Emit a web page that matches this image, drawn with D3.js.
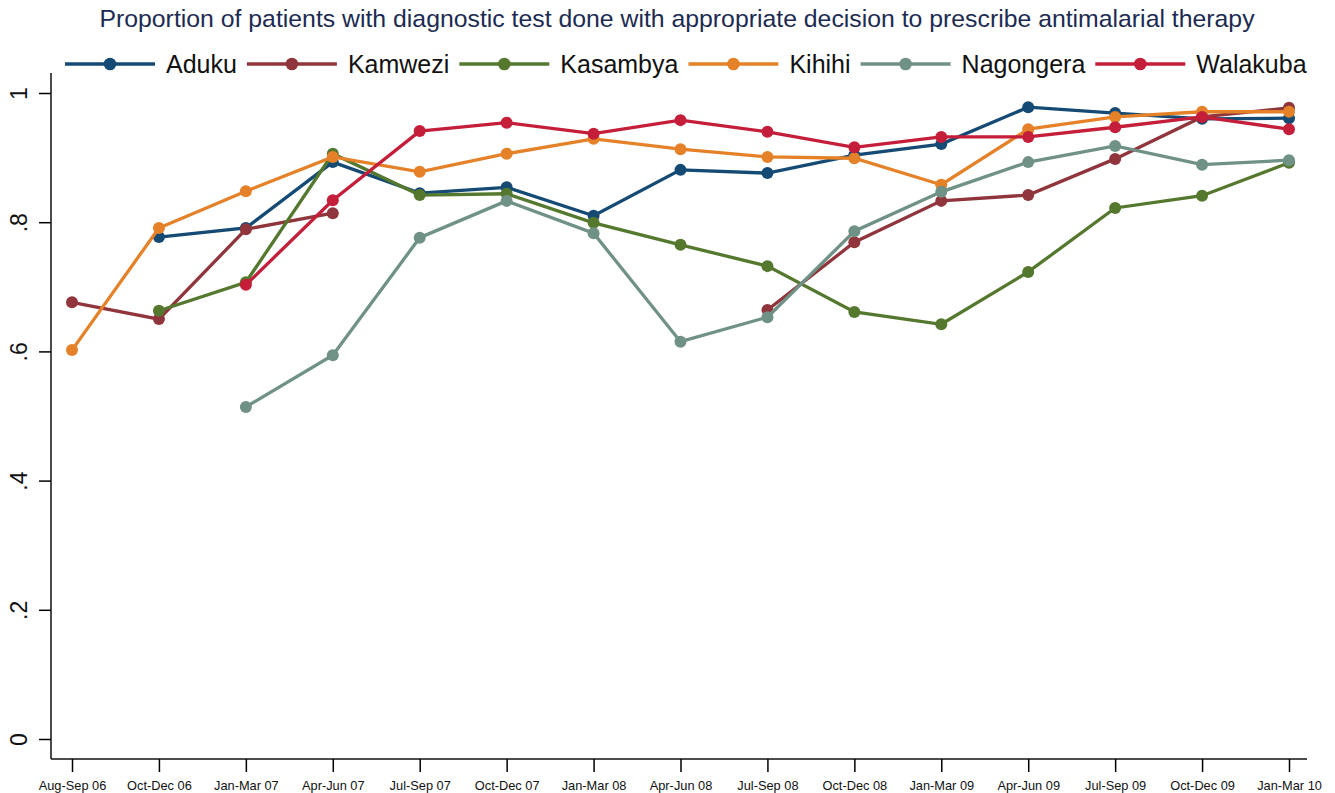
<!DOCTYPE html>
<html>
<head>
<meta charset="utf-8">
<script src="https://cdn.jsdelivr.net/npm/d3@7"></script>
<style>
  body { margin: 0; background: #fff; }
  svg text { font-family: "Liberation Sans Narrow", "Arial Narrow", "Liberation Sans", sans-serif; }
</style>
</head>
<body>
<svg id="chart" width="1335" height="793"></svg>
<script>
const title = 'Proportion of patients with diagnostic test done with appropriate decision to prescribe antimalarial therapy';

const quarters = ['Aug-Sep 06', 'Oct-Dec 06', 'Jan-Mar 07', 'Apr-Jun 07', 'Jul-Sep 07', 'Oct-Dec 07',
  'Jan-Mar 08', 'Apr-Jun 08', 'Jul-Sep 08', 'Oct-Dec 08', 'Jan-Mar 09', 'Apr-Jun 09',
  'Jul-Sep 09', 'Oct-Dec 09', 'Jan-Mar 10'];

const sites = ['Aduku', 'Kamwezi', 'Kasambya', 'Kihihi', 'Nagongera', 'Walakuba'];
const colors = ['#144a74', '#90353b', '#55782f', '#e58229', '#6f9186', '#c41e3a'];

const aduku     = [null, .777, .791, .893, .845, .854, .810, .881, .876, .904, .921, .978, .969, .960, .961];
const kamwezi   = [.676, .650, .789, .814, null, null, null, null, .664, .769, .833, .842, .898, .963, .977];
const kasambya  = [null, .663, .707, .906, .842, .844, .799, .765, .732, .661, .642, .723, .822, .841, .892];
const kihihi    = [.602, .791, .848, .901, .878, .906, .929, .913, .901, .899, .858, .944, .963, .971, .971];
const nagongera = [null, null, .514, .594, .776, .833, .783, .615, .653, .786, .847, .893, .918, .889, .896];
const walakuba  = [null, null, .703, .834, .941, .954, .937, .958, .940, .916, .932, .932, .947, .963, .944];

const series = [aduku, kamwezi, kasambya, kihihi, nagongera, walakuba];
const yTicks = [0, .2, .4, .6, .8, 1];

const svg = d3.select('#chart');

const x = d3.scalePoint()
  .domain(quarters)
  .range([72, 1289]);

const y = d3.scaleLinear()
  .domain([0, 1])
  .range([739, 93]);

// title
svg.append('text')
  .attr('x', 677)
  .attr('y', 27)
  .attr('text-anchor', 'middle')
  .style('font-size', '24.8px')
  .style('fill', '#1c2b52')
  .text(title);

// legend
const legend = svg.append('g').attr('class', 'legend');
let lx = 65;
sites.forEach((name, i) => {
  const g = legend.append('g');
  g.append('line')
    .attr('x1', lx).attr('x2', lx + 90)
    .attr('y1', 64).attr('y2', 64)
    .style('stroke', colors[i])
    .style('stroke-width', 3.3);
  g.append('circle')
    .attr('cx', lx + 45).attr('cy', 64).attr('r', 6.3)
    .style('fill', colors[i]);
  const t = g.append('text')
    .attr('x', lx + 101)
    .attr('y', 73)
    .style('font-size', '25px')
    .style('fill', '#111')
    .text(name);
  lx = lx + 101 + t.node().getComputedTextLength() + 10;
});

// axes
const yAxis = svg.append('g')
  .attr('transform', 'translate(51,0)')
  .call(d3.axisLeft(y).tickValues(yTicks).tickSize(12).tickFormat(d => d === 0 ? '0' : d === 1 ? '1' : d3.format('.1f')(d).replace(/^0/, '')));
yAxis.select('.domain').attr('d', 'M0,73V759');
yAxis.selectAll('.tick line').style('stroke-width', 1.5);
yAxis.selectAll('.tick text')
  .attr('transform', 'rotate(-90)')
  .attr('x', 0)
  .attr('y', -24)
  .attr('dy', 0)
  .style('text-anchor', 'middle')
  .style('font-size', '23px')
  .style('fill', '#111');

const xAxis = svg.append('g')
  .attr('transform', 'translate(0,759)')
  .call(d3.axisBottom(x).tickSize(13).tickPadding(9));
xAxis.select('.domain').attr('d', 'M51,0H1307');
xAxis.selectAll('.tick line').style('stroke-width', 1.5);
xAxis.selectAll('.tick text')
  .style('font-size', '12.8px')
  .style('fill', '#111');
svg.selectAll('.domain').style('stroke', '#111').style('stroke-width', 1.5);

// lines and markers
const line = d3.line()
  .defined(d => d.v !== null)
  .x(d => x(d.q))
  .y(d => y(d.v));

series.forEach((vals, i) => {
  const pts = vals.map((v, j) => ({q: quarters[j], v: v}));
  svg.append('path')
    .datum(pts)
    .attr('d', line)
    .style('fill', 'none')
    .style('stroke', colors[i])
    .style('stroke-width', 3.3);
  svg.append('g')
    .selectAll('circle')
    .data(pts.filter(d => d.v !== null))
    .enter()
    .append('circle')
    .attr('cx', d => x(d.q))
    .attr('cy', d => y(d.v))
    .attr('r', 6)
    .style('fill', colors[i]);
});
</script>
</body>
</html>
